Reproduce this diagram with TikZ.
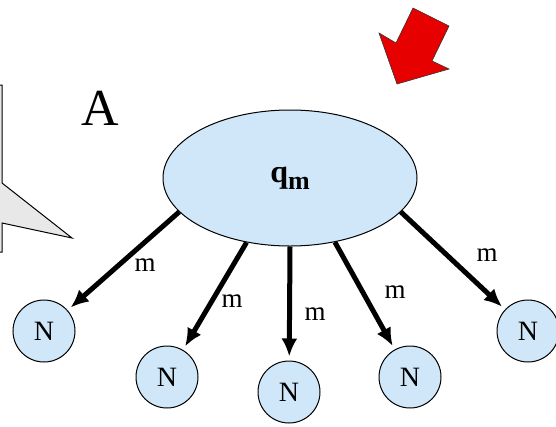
\documentclass[tikz,border=0pt]{standalone}
\usepackage{fontspec}
\setmainfont{Liberation Serif}
\usepackage{tikz}
\usetikzlibrary{arrows.meta, positioning, shapes.geometric}
\definecolor{qblue}{HTML}{CFE7F8}
\definecolor{calloutgray}{HTML}{E8E8E8}
\definecolor{pointred}{HTML}{E60000}

\begin{document}
\begin{tikzpicture}[
  x=1pt, y=-1pt,
  queue/.style={ellipse, draw=black, line width=1pt, fill=qblue,
                minimum width=254pt, minimum height=136pt,
                font=\fontsize{32}{32}\selectfont\bfseries},
  nbox/.style={circle, draw=black, line width=1pt, fill=qblue,
               minimum size=62pt, inner sep=0pt,
               font=\fontsize{28}{28}\selectfont},
  msg/.style={line width=5pt, -{Latex[length=18pt,width=16pt]}, shorten >=4pt},
  lbl/.style={font=\fontsize{27}{27}\selectfont}
]
  \useasboundingbox (0,0) rectangle (556,426);
  \clip (0,0) rectangle (556,426);

  % callout, cut by the left edge
  \draw[fill=calloutgray, line width=1pt] (-20,85) -- (2,85) -- (2,183) -- (72,238)
    -- (2,223) -- (2,252) -- (-20,252) -- cycle;

  % pointer
  \draw[fill=pointred, draw=black!80, line width=0.6pt] (413,8) -- (449,26) -- (432,61)
    -- (449,69) -- (397,84) -- (379,33) -- (396,43) -- cycle;

  \node[font=\fontsize{52}{52}\selectfont] (lblA) at (100,108) {A};

  \node[queue] (q) at (290,178) {q\raisebox{-7pt}{\fontsize{26}{26}\selectfont m}};

  \node[nbox] (n1) at (44,331) {N};
  \node[nbox] (n2) at (167,377) {N};
  \node[nbox] (n3) at (289,392) {N};
  \node[nbox] (n4) at (410,377) {N};
  \node[nbox] (n5) at (528,331) {N};

  \draw[msg] (q.197) -- (n1);
  \draw[msg] (q.236) -- (n2);
  \draw[msg] (q.270) -- (n3);
  \draw[msg] (q.305) -- (n4);
  \draw[msg] (q.343) -- (n5);

  \node[lbl] (m1) at (145,265) {m};
  \node[lbl] (m2) at (232,301) {m};
  \node[lbl] (m3) at (315,314) {m};
  \node[lbl] (m4) at (395,292) {m};
  \node[lbl] (m5) at (487,255) {m};
\end{tikzpicture}
\end{document}
